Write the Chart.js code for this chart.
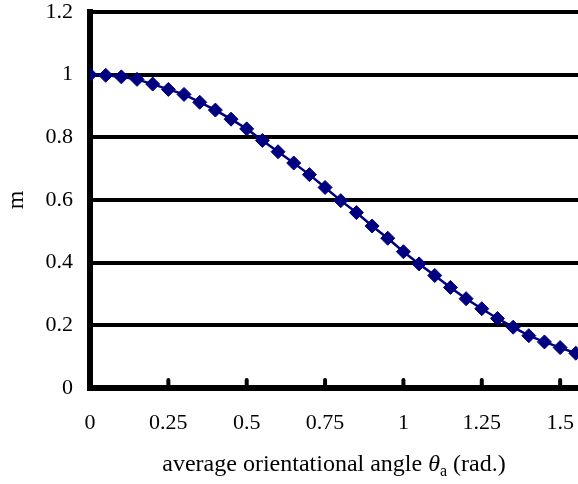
<!DOCTYPE html>
<html lang="en">

<head>
    <meta charset="UTF-8">
    <title>m vs average orientational angle</title>
    <script src="https://cdn.jsdelivr.net/npm/chart.js@4.4.0/dist/chart.umd.min.js"></script>
    <style>
        body { margin: 0; background: #fff; }
    </style>
</head>

<body>
    <canvas id="myChart" width="578" height="484"></canvas>

    <script>
        // average orientational angle (rad.)
        var angles = [0, 0.05, 0.1, 0.15, 0.2, 0.25, 0.3, 0.35, 0.4, 0.45,
            0.5, 0.55, 0.6, 0.65, 0.7, 0.75, 0.8, 0.85, 0.9, 0.95,
            1.0, 1.05, 1.1, 1.15, 1.2, 1.25, 1.3, 1.35, 1.4, 1.45,
            1.5, 1.55];
        // m
        var mValues = [1.0, 0.998, 0.993, 0.985, 0.97, 0.953, 0.937, 0.912, 0.887, 0.858,
            0.827, 0.79, 0.754, 0.718, 0.681, 0.64, 0.598, 0.56, 0.517, 0.478,
            0.435, 0.396, 0.359, 0.321, 0.285, 0.253, 0.222, 0.194, 0.167, 0.147,
            0.129, 0.111];

        var xMin = 0, xMax = 1.557, xStep = 0.25;
        var yMin = 0, yMax = 1.2, yStep = 0.2;

        var v_font = '"Liberation Serif", "Times New Roman", serif';

        var v_points = [];
        for (var i = 0; i < angles.length; i++) {
            v_points.push({ x: angles[i], y: mValues[i] });
        }

        // 0.25 -> "0.25", 1.0 -> "1"
        function f_label(v) {
            return String(parseFloat(Number(v).toFixed(2)));
        }

        // short tick marks standing up from the x axis
        var innerTicks = {
            id: 'innerTicks',
            beforeDatasetsDraw: function (chart) {
                var ctx = chart.ctx;
                var xs = chart.scales.x;
                var bottom = chart.chartArea.bottom;
                ctx.save();
                ctx.strokeStyle = '#000';
                ctx.lineWidth = 4;
                ctx.lineCap = 'round';
                xs.ticks.forEach(function (t) {
                    if (t.value === 0) return;
                    var px = xs.getPixelForValue(t.value);
                    ctx.beginPath();
                    ctx.moveTo(px, bottom);
                    ctx.lineTo(px, bottom - 8);
                    ctx.stroke();
                });
                ctx.restore();
            }
        };

        // x axis title with italic theta and subscript a
        var xTitle = {
            id: 'xTitle',
            afterDraw: function (chart) {
                var ctx = chart.ctx;
                var area = chart.chartArea;
                var parts = [
                    { text: 'average orientational angle ', font: '24px ' + v_font, dy: 0 },
                    { text: 'θ', font: 'italic 24px ' + v_font, dy: 0 },
                    { text: 'a', font: '16px ' + v_font, dy: 5 },
                    { text: ' (rad.)', font: '24px ' + v_font, dy: 0 }
                ];
                ctx.save();
                var total = 0;
                parts.forEach(function (p) {
                    ctx.font = p.font;
                    p.w = ctx.measureText(p.text).width;
                    total += p.w;
                });
                var x = (area.left + area.right) / 2 - total / 2;
                var y = 471;
                ctx.fillStyle = '#000';
                ctx.textBaseline = 'alphabetic';
                ctx.textAlign = 'left';
                parts.forEach(function (p) {
                    ctx.font = p.font;
                    ctx.fillText(p.text, x, y + p.dy);
                    x += p.w;
                });
                ctx.restore();
            }
        };

        const ctx = document.getElementById('myChart').getContext('2d');
        const myChart = new Chart(ctx, {
            type: 'line',
            data: {
                datasets: [{
                    label: 'm',
                    data: v_points,
                    borderColor: '#000080',
                    backgroundColor: '#000080',
                    borderWidth: 2.5,
                    pointStyle: 'rectRot',
                    pointRadius: 7,
                    pointBorderWidth: 1,
                    pointBackgroundColor: '#000080',
                    pointBorderColor: '#000080',
                    tension: 0
                }]
            },
            options: {
                responsive: false,
                animation: false,
                devicePixelRatio: 1,
                layout: {
                    autoPadding: false,
                    padding: { top: 12, right: 0, bottom: 0, left: 0 }
                },
                plugins: {
                    legend: { display: false },
                    tooltip: { enabled: false }
                },
                scales: {
                    x: {
                        type: 'linear',
                        min: xMin,
                        max: xMax,
                        afterFit: function (s) {
                            s.height = 96;
                            s.paddingLeft = 0;
                            s.paddingRight = 0;
                        },
                        grid: { display: false, drawTicks: false },
                        border: { display: true, color: '#000', width: 6 },
                        ticks: {
                            stepSize: xStep,
                            includeBounds: false,
                            maxRotation: 0,
                            autoSkip: false,
                            padding: 22,
                            color: '#000',
                            font: { family: v_font, size: 22 },
                            callback: f_label
                        }
                    },
                    y: {
                        min: yMin,
                        max: yMax,
                        afterFit: function (s) {
                            s.width = 90;
                            s.paddingTop = 0;
                            s.paddingBottom = 0;
                        },
                        grid: { color: '#000', lineWidth: 4, drawTicks: false },
                        border: { display: true, color: '#000', width: 6 },
                        ticks: {
                            stepSize: yStep,
                            padding: 17,
                            color: '#000',
                            font: { family: v_font, size: 22 },
                            callback: f_label
                        },
                        title: {
                            display: true,
                            text: 'm',
                            color: '#000',
                            padding: { top: 2, bottom: 4 },
                            font: { family: v_font, size: 24 }
                        }
                    }
                }
            },
            plugins: [innerTicks, xTitle]
        });
    </script>
</body>

</html>
